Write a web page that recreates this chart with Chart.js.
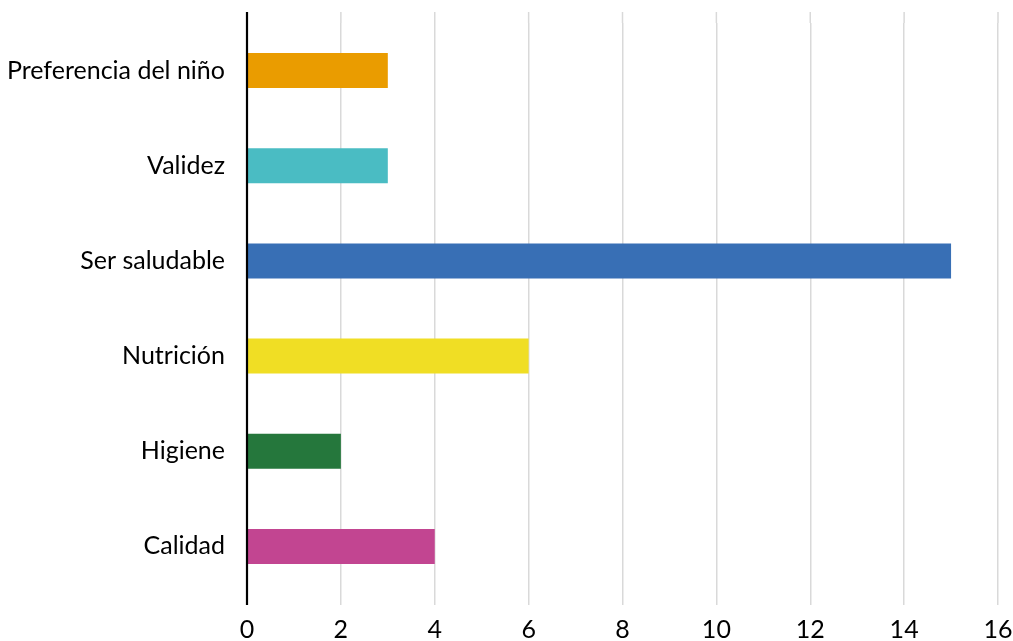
<!DOCTYPE html>
<html>
<head>
<meta charset="utf-8">
<script src="https://cdn.jsdelivr.net/npm/chart.js@4/dist/chart.umd.min.js"></script>
<style>
html,body{margin:0;padding:0;background:#fff;}
#wrap{width:1013px;height:641px;}
</style>
</head>
<body>
<div id="wrap"><canvas id="c"></canvas></div>
<script>
const categories = ["Preferencia del niño", "Validez", "Ser saludable", "Nutrición", "Higiene", "Calidad"];
const values = [3, 3, 15, 6, 2, 4];
const barColors = ["#EA9C00", "#4ABCC3", "#386FB5", "#F0DE24", "#25773C", "#C24591"];
const xTicks = [0, 2, 4, 6, 8, 10, 12, 14, 16];

const FONT = "Lato, 'Open Sans', sans-serif";

const extendPlugin = {
  id: 'extend',
  afterDraw(chart) {
    const ctx = chart.ctx;
    const xs = chart.scales.x;
    const area = chart.chartArea;
    ctx.save();
    ctx.strokeStyle = '#d9d9d9';
    ctx.lineWidth = 1.5;
    xTicks.forEach(v => {
      if (v === 0) return;
      const px = xs.getPixelForValue(v);
      ctx.beginPath();
      ctx.moveTo(px, 12);
      ctx.lineTo(px, area.top);
      ctx.stroke();
    });
    const x0 = xs.getPixelForValue(0);
    ctx.strokeStyle = '#000';
    ctx.lineWidth = 2.2;
    ctx.beginPath();
    ctx.moveTo(x0, 12);
    ctx.lineTo(x0, area.bottom + 11);
    ctx.stroke();
    ctx.restore();
  }
};

new Chart(document.getElementById('c'), {
  type: 'bar',
  data: {
    labels: categories,
    datasets: [{
      data: values,
      backgroundColor: barColors,
      borderWidth: 0,
      categoryPercentage: 1,
      barPercentage: 0.368
    }]
  },
  options: {
    indexAxis: 'y',
    responsive: true,
    maintainAspectRatio: false,
    animation: false,
    layout: { padding: { top: 23, right: 15, bottom: 0, left: 0 } },
    plugins: { legend: { display: false }, tooltip: { enabled: false } },
    scales: {
      x: {
        min: 0, max: 16,
        afterBuildTicks: (s) => { s.ticks = xTicks.map(v => ({ value: v })); },
        afterFit: (s) => { s.height = 47; s.paddingRight = 0; s.paddingLeft = 0; },
        grid: { color: '#d9d9d9', lineWidth: 1.5, drawTicks: true, tickLength: 11 },
        border: { display: false },
        ticks: { color: '#000', font: { family: FONT, size: 25 }, padding: 10, maxRotation: 0 }
      },
      y: {
        afterFit: (s) => { s.width = 247; s.paddingTop = 0; s.paddingBottom = 0; },
        grid: { display: false },
        border: { display: true, color: '#000', width: 2 },
        ticks: { color: '#000', font: { family: FONT, size: 25 }, padding: 14 }
      }
    }
  },
  plugins: [extendPlugin]
});
</script>
</body>
</html>
